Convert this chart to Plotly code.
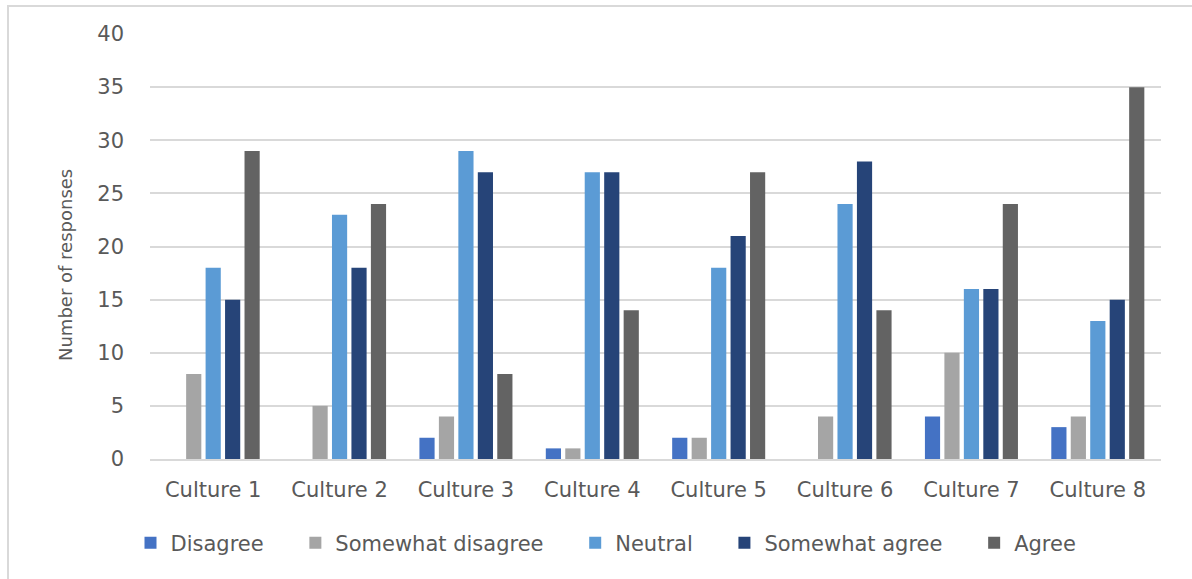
import plotly.graph_objects as go

cultures = ["Culture 1", "Culture 2", "Culture 3", "Culture 4",
            "Culture 5", "Culture 6", "Culture 7", "Culture 8"]
disagree = [0, 0, 2, 1, 2, 0, 4, 3]
somewhat_disagree = [8, 5, 4, 1, 2, 4, 10, 4]
neutral = [18, 23, 29, 27, 18, 24, 16, 13]
somewhat_agree = [15, 18, 27, 27, 21, 28, 16, 15]
agree = [29, 24, 8, 14, 27, 14, 24, 35]

series = [
    ("Disagree", disagree, "#4472C4"),
    ("Somewhat disagree", somewhat_disagree, "#A5A5A5"),
    ("Neutral", neutral, "#5B9BD5"),
    ("Somewhat agree", somewhat_agree, "#264478"),
    ("Agree", agree, "#636363"),
]

# extra space after each legend entry except the last
PAD = "\u00a0" * 4

fig = go.Figure()
for i, (name, vals, color) in enumerate(series):
    label = name + (PAD if i < len(series) - 1 else "")
    fig.add_trace(go.Bar(x=cultures, y=vals, name=label,
                         marker=dict(color=color, line=dict(width=0))))

font_family = "DejaVu Sans, Verdana, sans-serif"
text_color = "#595959"

# plot area in pixels: x 150..1161, y 34..459
L, R, T, B = 150, 1161, 34, 459
W, H = R - L, B - T

fig.update_layout(
    width=1192, height=579,
    margin=dict(l=L, r=1192 - R, t=T, b=579 - B),
    paper_bgcolor="white", plot_bgcolor="white",
    barmode="group", bargap=0.23, bargroupgap=0.22,
    font=dict(family=font_family, color=text_color, size=21),
    showlegend=True,
    legend=dict(orientation="h", x=(606 - L) / W, xanchor="center",
                y=(B - 543) / H, yanchor="middle",
                font=dict(size=21, color=text_color),
                itemwidth=30, traceorder="normal"),
    xaxis=dict(showgrid=False, showline=True, linecolor="#d9d9d9",
               linewidth=2, ticks="", tickfont=dict(size=21, color=text_color),
               ticklabelstandoff=11),
    yaxis=dict(range=[0, 40], dtick=5, showgrid=True, gridcolor="#d9d9d9",
               gridwidth=1.5, zeroline=False, showline=False, ticks="",
               tickfont=dict(size=21, color=text_color), ticklabelstandoff=25),
    annotations=[dict(text="Number of responses", xref="paper", yref="paper",
                      x=(65 - L) / W, y=(B - 265) / H, xanchor="center",
                      yanchor="middle", textangle=-90, showarrow=False,
                      font=dict(size=18, color=text_color))],
    shapes=[dict(type="rect", xref="paper", yref="paper",
                 x0=(8 - L) / W, x1=(1196 - L) / W,
                 y0=(B - 585) / H, y1=(B - 6) / H,
                 line=dict(color="#d9d9d9", width=2), layer="below")],
)

fig.write_html("out.html")
